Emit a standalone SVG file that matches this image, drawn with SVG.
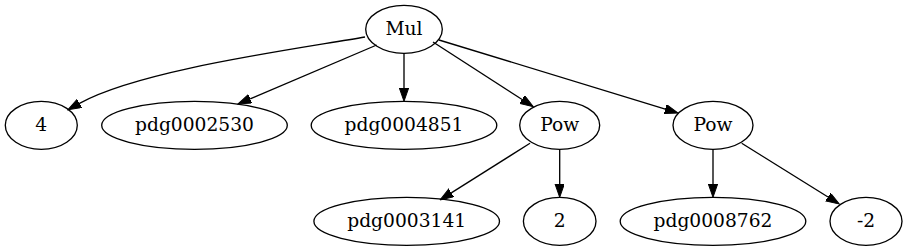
<svg xmlns="http://www.w3.org/2000/svg" width="908" height="251" viewBox="0 0 908 251">
<style>
.node ellipse{fill:none;stroke:#000;stroke-width:1.33}
.node text{font-family:"DejaVu Serif",serif;font-size:18.67px;text-anchor:middle;fill:#000}
#edges path{fill:none;stroke:#000;stroke-width:1.33}
</style>
<defs>
<marker id="arr" markerUnits="userSpaceOnUse" markerWidth="14" markerHeight="10" refX="0" refY="4.67" orient="auto" viewBox="0 0 14 10">
<path d="M0,0 L13.3,4.67 L0,9.33 Z" fill="#000" stroke="#000" stroke-width="1"/>
</marker>
</defs>
<rect width="908" height="251" fill="#fff"/>
<g id="edges">
<path d="M365,37 C290,50 140,70 79.5,103.3" marker-end="url(#arr)"/>
<path d="M376.7,45 L250.2,98.8" marker-end="url(#arr)"/>
<path d="M404,53.3 L404,88" marker-end="url(#arr)"/>
<path d="M433,42 L522.1,99.5" marker-end="url(#arr)"/>
<path d="M439,40 L665.3,109.1" marker-end="url(#arr)"/>
<path d="M530,143.3 L451.3,192.9" marker-end="url(#arr)"/>
<path d="M559.7,149.3 L559.7,184" marker-end="url(#arr)"/>
<path d="M713,149.3 L713,184" marker-end="url(#arr)"/>
<path d="M741.7,143.3 L828,197" marker-end="url(#arr)"/>
</g>
<g id="mul" class="node"><ellipse cx="404" cy="29.3" rx="38.3" ry="24"/><text x="404" y="34.5">Mul</text></g>
<g id="n4" class="node"><ellipse cx="41.3" cy="125.3" rx="36" ry="24"/><text x="41.3" y="130.5">4</text></g>
<g id="pdg0002530" class="node"><ellipse cx="194.5" cy="125.3" rx="92.8" ry="24"/><text x="194.5" y="130.5">pdg0002530</text></g>
<g id="pdg0004851" class="node"><ellipse cx="404" cy="125.3" rx="92.8" ry="24"/><text x="404" y="130.5">pdg0004851</text></g>
<g id="pow1" class="node"><ellipse cx="559.7" cy="125.3" rx="40" ry="24"/><text x="559.7" y="130.5">Pow</text></g>
<g id="pow2" class="node"><ellipse cx="713" cy="125.3" rx="40" ry="24"/><text x="713" y="130.5">Pow</text></g>
<g id="pdg0003141" class="node"><ellipse cx="406.7" cy="221.3" rx="92.8" ry="24"/><text x="406.7" y="226.5">pdg0003141</text></g>
<g id="n2" class="node"><ellipse cx="559.7" cy="221.3" rx="36.3" ry="24"/><text x="559.7" y="226.5">2</text></g>
<g id="pdg0008762" class="node"><ellipse cx="713" cy="221.3" rx="92.8" ry="24"/><text x="713" y="226.5">pdg0008762</text></g>
<g id="nm2" class="node"><ellipse cx="866" cy="221.3" rx="36" ry="24"/><text x="866" y="226.5">-2</text></g>
</svg>
